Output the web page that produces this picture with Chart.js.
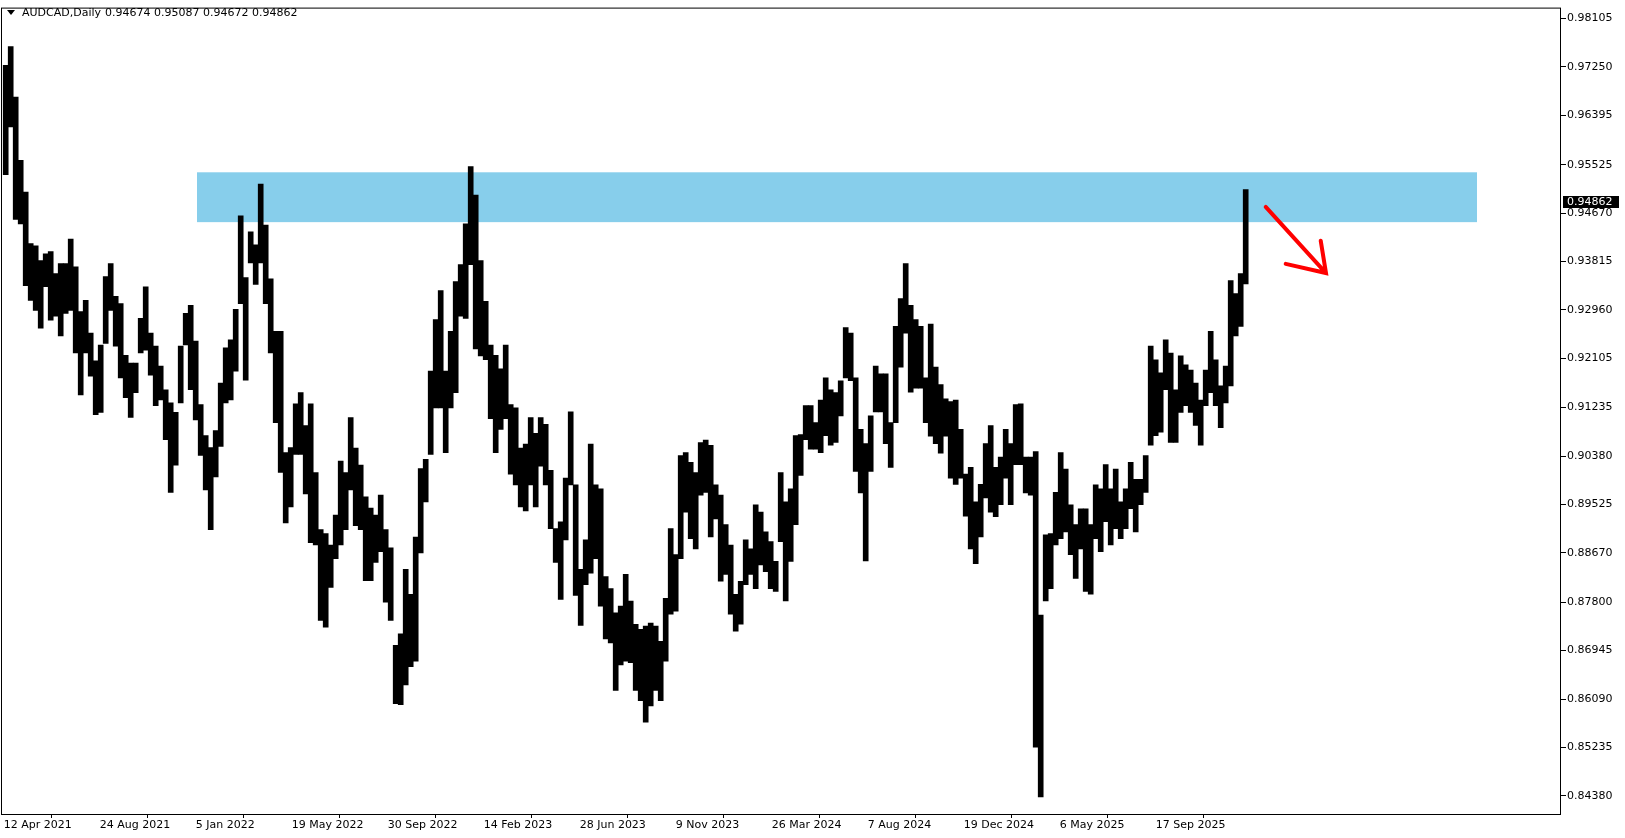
<!DOCTYPE html>
<html>
<head>
<meta charset="utf-8">
<title>AUDCAD, Daily</title>
<script src="https://cdn.jsdelivr.net/npm/chart.js@4.4.1/dist/chart.umd.min.js"></script>
<style>
  html, body { margin: 0; padding: 0; background: #fff; }
  #wrap { width: 1625px; height: 838px; }
</style>
</head>
<body>
<div id="wrap"><canvas id="myChart" width="1625" height="838"></canvas></div>
<script>
// header of the last (current) daily bar: open, high, low, close
const symbolName = 'AUDCAD,Daily';
const lastBar = [0.94674, 0.95087, 0.94672, 0.94862];

// weekly high / low (one entry = 5 trading days, from 12 Apr 2021)
const weekHighs = [
  0.9728, 0.9761, 0.9672, 0.9560, 0.9504, 0.9413, 0.9409, 0.9383, 0.9395, 0.9399,
  0.9360, 0.9378, 0.9378, 0.9421, 0.9372, 0.9293, 0.9313, 0.9255, 0.9206, 0.9234,
  0.9355, 0.9378, 0.9320, 0.9307, 0.9216, 0.9202, 0.9202, 0.9281, 0.9337, 0.9255,
  0.9232, 0.9197, 0.9155, 0.9132, 0.9115, 0.9232, 0.9290, 0.9304, 0.9241, 0.9129,
  0.9074, 0.9053, 0.9083, 0.9167, 0.9229, 0.9243, 0.9297, 0.9462, 0.9353, 0.9434,
  0.9411, 0.9518, 0.9446, 0.9351, 0.9258, 0.9258, 0.9044, 0.9053, 0.9130, 0.9150,
  0.9092, 0.9130, 0.9009, 0.8908, 0.8901, 0.8881, 0.8934, 0.9029, 0.9009, 0.9106,
  0.9052, 0.9022, 0.8966, 0.8946, 0.8934, 0.8969, 0.8908, 0.8876, 0.8704, 0.8724,
  0.8838, 0.8794, 0.8895, 0.9016, 0.9032, 0.9188, 0.9279, 0.9330, 0.9188, 0.9258,
  0.9346, 0.9376, 0.9448, 0.9549, 0.9499, 0.9383, 0.9311, 0.9234, 0.9216, 0.9192,
  0.9234, 0.9129, 0.9123, 0.9052, 0.9059, 0.9106, 0.9078, 0.9106, 0.9094, 0.9013,
  0.8910, 0.8922, 0.8999, 0.9116, 0.8987, 0.8838, 0.8890, 0.9059, 0.8987, 0.8980,
  0.8825, 0.8804, 0.8761, 0.8773, 0.8829, 0.8782, 0.8741, 0.8732, 0.8738, 0.8743,
  0.8738, 0.8711, 0.8787, 0.8910, 0.8864, 0.9039, 0.9044, 0.9027, 0.9009, 0.9062,
  0.9066, 0.9057, 0.8987, 0.8969, 0.8917, 0.8881, 0.8794, 0.8817, 0.8890, 0.8874,
  0.8952, 0.8939, 0.8904, 0.8887, 0.8852, 0.9009, 0.8957, 0.8980, 0.9074, 0.9076,
  0.9127, 0.9127, 0.9097, 0.9137, 0.9176, 0.9155, 0.9150, 0.9171, 0.9265, 0.9255,
  0.9176, 0.9085, 0.9060, 0.9109, 0.9197, 0.9183, 0.9183, 0.9097, 0.9267, 0.9316,
  0.9378, 0.9304, 0.9279, 0.9267, 0.9176, 0.9271, 0.9195, 0.9164, 0.9139, 0.9134,
  0.9137, 0.9085, 0.9006, 0.9018, 0.8957, 0.8988, 0.9060, 0.9092, 0.9018, 0.9036,
  0.9085, 0.9060, 0.9129, 0.9130, 0.9036, 0.9036, 0.9046, 0.8757, 0.8899, 0.8901,
  0.8974, 0.9044, 0.9015, 0.8952, 0.8917, 0.8945, 0.8945, 0.8917, 0.8987, 0.8980,
  0.9023, 0.8980, 0.9015, 0.8957, 0.8980, 0.9027, 0.8997, 0.8997, 0.9039, 0.9232,
  0.9208, 0.9185, 0.9243, 0.9220, 0.9155, 0.9215, 0.9199, 0.9190, 0.9167, 0.9137,
  0.9190, 0.9258, 0.9208, 0.9162, 0.9197, 0.9348, 0.9325, 0.9360, 0.95087
];
const weekLows = [
  0.9535, 0.9619, 0.9456, 0.9448, 0.9339, 0.9313, 0.9295, 0.9264, 0.9337, 0.9278,
  0.9285, 0.9250, 0.9290, 0.9295, 0.9220, 0.9146, 0.9220, 0.9179, 0.9111, 0.9115,
  0.9237, 0.9295, 0.9232, 0.9176, 0.9141, 0.9106, 0.9150, 0.9220, 0.9225, 0.9181,
  0.9127, 0.9137, 0.9067, 0.8974, 0.9022, 0.9132, 0.9234, 0.9155, 0.9102, 0.9039,
  0.8978, 0.8908, 0.9001, 0.9055, 0.9132, 0.9137, 0.9188, 0.9307, 0.9172, 0.9379,
  0.9341, 0.9379, 0.9307, 0.9220, 0.9097, 0.9009, 0.8920, 0.8948, 0.9041, 0.9041,
  0.8971, 0.8885, 0.8881, 0.8748, 0.8736, 0.8806, 0.8857, 0.8881, 0.8908, 0.8978,
  0.8915, 0.8908, 0.8818, 0.8818, 0.8850, 0.8869, 0.8780, 0.8748, 0.8601, 0.8599,
  0.8634, 0.8666, 0.8676, 0.8867, 0.8957, 0.9041, 0.9123, 0.9123, 0.9044, 0.9123,
  0.9150, 0.9285, 0.9281, 0.9376, 0.9227, 0.9215, 0.9208, 0.9104, 0.9044, 0.9085,
  0.9104, 0.9006, 0.8987, 0.8948, 0.8941, 0.8987, 0.8948, 0.9020, 0.8987, 0.8910,
  0.8850, 0.8785, 0.8890, 0.8987, 0.8792, 0.8739, 0.8811, 0.8831, 0.8857, 0.8773,
  0.8715, 0.8708, 0.8624, 0.8669, 0.8676, 0.8673, 0.8624, 0.8606, 0.8568, 0.8597,
  0.8624, 0.8606, 0.8676, 0.8759, 0.8764, 0.8857, 0.8939, 0.8892, 0.8874, 0.8969,
  0.8974, 0.8895, 0.8927, 0.8817, 0.8829, 0.8759, 0.8729, 0.8741, 0.8811, 0.8829,
  0.8804, 0.8846, 0.8834, 0.8804, 0.8799, 0.8887, 0.8782, 0.8852, 0.8917, 0.9004,
  0.9067, 0.9050, 0.9050, 0.9044, 0.9074, 0.9057, 0.9062, 0.9109, 0.9176, 0.9171,
  0.9011, 0.8973, 0.8853, 0.9011, 0.9116, 0.9116, 0.9060, 0.9018, 0.9097, 0.9195,
  0.9255, 0.9151, 0.9158, 0.9158, 0.9097, 0.9073, 0.9060, 0.9043, 0.9073, 0.8999,
  0.8988, 0.8999, 0.8932, 0.8874, 0.8848, 0.8895, 0.8964, 0.8939, 0.8931, 0.8952,
  0.8999, 0.8952, 0.9023, 0.9023, 0.8973, 0.8969, 0.8524, 0.8436, 0.8782, 0.8804,
  0.8881, 0.8892, 0.8904, 0.8864, 0.8822, 0.8874, 0.8799, 0.8794, 0.8892, 0.8869,
  0.8922, 0.8881, 0.8910, 0.8892, 0.8910, 0.8945, 0.8904, 0.8952, 0.8974, 0.9057,
  0.9074, 0.9080, 0.9155, 0.9062, 0.9062, 0.9115, 0.9127, 0.9115, 0.9092, 0.9057,
  0.9127, 0.9150, 0.9127, 0.9088, 0.9132, 0.9162, 0.9250, 0.9267, 0.9342
];

// date axis: trading-day number of each label
const xTickDays = [0, 96, 192, 288, 384, 480, 576, 672, 768, 864, 960, 1056, 1152];
const xTickLabels = ['12 Apr 2021', '24 Aug 2021', '5 Jan 2022', '19 May 2022', '30 Sep 2022',
  '14 Feb 2023', '28 Jun 2023', '9 Nov 2023', '26 Mar 2024', '7 Aug 2024', '19 Dec 2024',
  '6 May 2025', '17 Sep 2025'];

// price axis labels as MT4 prints them
const yTicks = [0.98105, 0.97250, 0.96395, 0.95525, 0.94670, 0.93815, 0.92960, 0.92105,
  0.91235, 0.90380, 0.89525, 0.88670, 0.87800, 0.86945, 0.86090, 0.85235, 0.84380];

// resistance zone (blue rectangle) and the hand drawn arrow, in day / price units
const zoneDays = [193.3, 1473.3];
const zonePrices = [0.9451, 0.9539];
const arrowDays = [1262, 1322.3, 1317, 1282];
const arrowPrices = [0.94779, 0.93611, 0.94183, 0.93774];

const DAYS_PER_WEEK = 5;
const barData = weekHighs.map((h, i) => ({ x: i * DAYS_PER_WEEK + 2, y: [weekLows[i], h] }));

Chart.defaults.font.family = "'DejaVu Sans', sans-serif";
Chart.defaults.font.size = 11;
Chart.defaults.color = '#000';

const mt4Plugin = {
  id: 'mt4',
  beforeDatasetsDraw(chart) {
    const { ctx, chartArea, scales: { x, y } } = chart;
    ctx.save();
    ctx.beginPath();
    ctx.rect(chartArea.left, chartArea.top, chartArea.width, chartArea.height);
    ctx.clip();
    const x0 = x.getPixelForValue(zoneDays[0]);
    const x1 = x.getPixelForValue(zoneDays[1]);
    const y0 = y.getPixelForValue(zonePrices[1]);
    const y1 = y.getPixelForValue(zonePrices[0]);
    ctx.fillStyle = '#87CEEB';
    ctx.fillRect(x0, y0, x1 - x0, y1 - y0);
    ctx.restore();
  },
  afterDatasetsDraw(chart) {
    const { ctx, scales: { x, y } } = chart;
    const p = arrowDays.map((d, i) => [x.getPixelForValue(d), y.getPixelForValue(arrowPrices[i])]);
    ctx.save();
    ctx.strokeStyle = '#ff0000';
    ctx.lineWidth = 4;
    ctx.lineCap = 'round';
    ctx.beginPath();
    ctx.moveTo(p[0][0], p[0][1]);
    ctx.lineTo(p[1][0], p[1][1]);
    ctx.moveTo(p[2][0], p[2][1]);
    ctx.lineTo(p[1][0], p[1][1]);
    ctx.lineTo(p[3][0], p[3][1]);
    ctx.stroke();
    ctx.restore();
  },
  afterDraw(chart) {
    const { ctx, chartArea, scales: { y } } = chart;
    ctx.save();
    // frame
    ctx.strokeStyle = '#000';
    ctx.lineWidth = 1;
    ctx.strokeRect(chartArea.left + 0.5, chartArea.top + 0.5, chartArea.width - 1, chartArea.height);
    // header
    ctx.fillStyle = '#000';
    ctx.beginPath();
    ctx.moveTo(7, 10);
    ctx.lineTo(15, 10);
    ctx.lineTo(11, 15);
    ctx.closePath();
    ctx.fill();
    ctx.font = "11px 'DejaVu Sans'";
    ctx.textBaseline = 'middle';
    ctx.fillText(symbolName, 22, 13);
    ctx.fillText(lastBar.map(v => v.toFixed(5)).join(' '), 105, 13);
    // current price box
    const py = Math.round(y.getPixelForValue(lastBar[3]));
    ctx.fillStyle = '#000';
    ctx.fillRect(chartArea.right + 2, py - 6, 56, 12);
    ctx.fillStyle = '#fff';
    ctx.fillText(lastBar[3].toFixed(5), chartArea.right + 6, py);
    ctx.restore();
  }
};

const config = {
  type: 'bar',
  data: {
    datasets: [{
      label: 'AUDCAD',
      data: barData,
      backgroundColor: '#000',
      borderWidth: 0,
      barPercentage: 1,
      categoryPercentage: 1
    }]
  },
  options: {
    responsive: false,
    animation: false,
    layout: { padding: { left: 1, top: 2, right: 0, bottom: 0 } },
    plugins: { legend: { display: false }, tooltip: { enabled: false } },
    scales: {
      x: {
        type: 'linear',
        offset: false,
        min: -2.7,
        max: 1557.3,
        afterBuildTicks: (scale) => { scale.ticks = xTickDays.map(v => ({ value: v })); },
        afterFit: (scale) => { scale.height = 24; },
        grid: { drawOnChartArea: false, drawTicks: true, tickLength: 4, color: '#000' },
        border: { display: false },
        ticks: {
          autoSkip: false,
          maxRotation: 0,
          align: 'start',
          padding: 1,
          callback: (v) => xTickLabels[xTickDays.indexOf(v)]
        }
      },
      y: {
        position: 'right',
        min: 0.84060,
        max: 0.98298,
        afterBuildTicks: (scale) => { scale.ticks = yTicks.map(v => ({ value: v })); },
        afterFit: (scale) => { scale.width = 64; },
        grid: { drawOnChartArea: false, drawTicks: true, tickLength: 5, color: '#000' },
        border: { display: false },
        ticks: { padding: 1, callback: (v) => Number(v).toFixed(5) }
      }
    }
  },
  plugins: [mt4Plugin]
};

const ctx = document.getElementById('myChart').getContext('2d');
new Chart(ctx, config);
</script>
</body>
</html>
